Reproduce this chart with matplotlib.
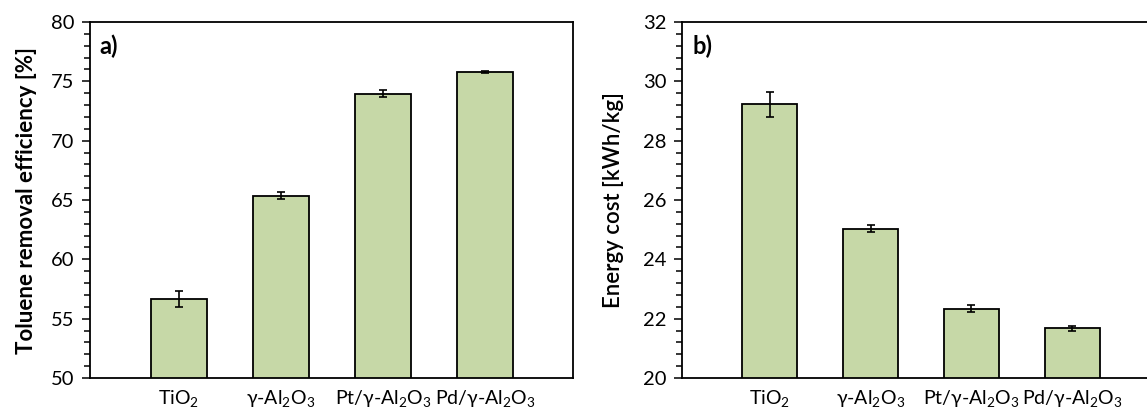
import matplotlib
matplotlib.use("Agg")
import matplotlib.pyplot as plt
from matplotlib.ticker import MultipleLocator

plt.rcParams['font.family'] = ['Lato', 'DejaVu Sans']
plt.rcParams['mathtext.fontset'] = 'custom'
plt.rcParams['mathtext.rm'] = 'Lato'
plt.rcParams['mathtext.it'] = 'Lato:italic'
plt.rcParams['mathtext.bf'] = 'Lato:bold'

categories = ["TiO$_2$", "γ-Al$_2$O$_3$", "Pt/γ-Al$_2$O$_3$", "Pd/γ-Al$_2$O$_3$"]
removal_eff = [56.67, 65.37, 73.94, 75.79]
removal_err = [0.65, 0.30, 0.30, 0.10]
energy_cost = [29.23, 25.03, 22.34, 21.67]
energy_err = [0.42, 0.12, 0.11, 0.08]

bar_color = "#C6D8A7"

fig = plt.figure(figsize=(11.47, 4.12), dpi=100)
ax1 = fig.add_axes([90/1147, 34/412, 483/1147, 356/412])
ax2 = fig.add_axes([682/1147, 34/412, 477/1147, 356/412])

x = list(range(len(categories)))

def style(ax, vals, errs, ylim, major, minor, ylabel, lweight, lpad, tag, tagx):
    ax.bar(x, vals, width=0.55, color=bar_color, edgecolor="black", linewidth=1.3, zorder=2)
    ax.errorbar(x, vals, yerr=errs, fmt="none", ecolor="black", elinewidth=1.2,
                capsize=3, capthick=1.2, zorder=3)
    ax.set_xlim(-0.87, 3.86)
    ax.set_ylim(*ylim)
    ax.yaxis.set_major_locator(MultipleLocator(major))
    ax.yaxis.set_minor_locator(MultipleLocator(minor))
    ax.set_xticks(x)
    ax.set_xticklabels(categories, fontsize=14)
    ax.tick_params(axis="x", length=0, pad=7)
    ax.tick_params(axis="y", which="major", length=6, width=1.1, labelsize=14.5, pad=5, direction="out")
    ax.tick_params(axis="y", which="minor", length=4, width=1.1, direction="out")
    for s in ax.spines.values():
        s.set_linewidth(1.3)
    ax.set_ylabel(ylabel, fontsize=16, fontweight=lweight, labelpad=lpad)
    ax.text(tagx, 0.965, tag, transform=ax.transAxes, fontsize=17, fontweight="bold",
            va="top", ha="left")

style(ax1, removal_eff, removal_err, (50, 80), 5, 1, "Toluene removal efficiency [%]",
      "bold", 10, "a)", 0.02)
style(ax2, energy_cost, energy_err, (20, 32), 2, 0.4, "Energy cost [kWh/kg]",
      "semibold", 14, "b)", 0.023)

fig.savefig("out.png", dpi=100)
